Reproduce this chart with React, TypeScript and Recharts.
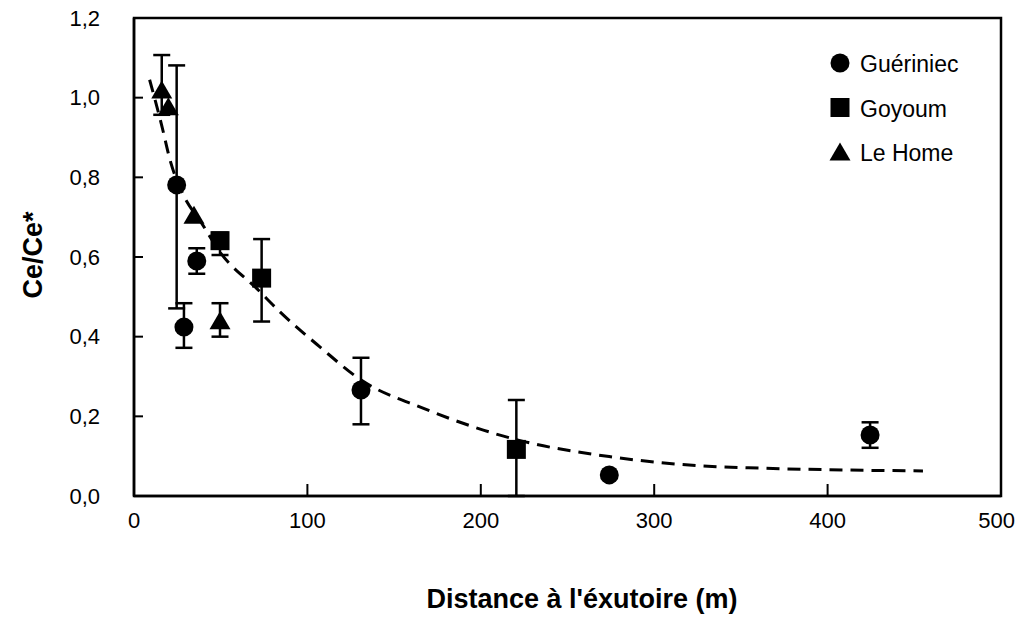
import React from 'react';
import { ComposedChart, Scatter, Line, XAxis, YAxis, ErrorBar, ReferenceArea } from 'recharts';

const FONT = '"Liberation Sans", Arial, Helvetica, sans-serif';

const xTicks = [0, 100, 200, 300, 400, 500];
const yTicks = [0, 0.2, 0.4, 0.6, 0.8, 1.0, 1.2];

const xTitle = "Distance à l'éxutoire (m)";
const yTitle = 'Ce/Ce*';

// Guériniec (circles)
const gueriniecX = [24.6, 36.2, 28.8, 130.9, 274.1, 424.5];
const gueriniecY = [0.781, 0.59, 0.424, 0.266, 0.053, 0.153];
const gueriniecErr: ([number, number] | null)[] = [
  [0.31, 0.3],
  [0.032, 0.032],
  [0.052, 0.06],
  [0.086, 0.081],
  null,
  [0.032, 0.032],
];

// Goyoum (squares)
const goyoumX = [49.6, 73.6, 220.5];
const goyoumY = [0.641, 0.547, 0.117];
const goyoumErr: ([number, number] | null)[] = [
  [0.036, 0.02],
  [0.109, 0.098],
  [0.117, 0.124],
];

// Le Home (triangles)
const leHomeX = [16.0, 19.8, 34.6, 49.6];
const leHomeY = [1.019, 0.977, 0.705, 0.44];
const leHomeErr: ([number, number] | null)[] = [[0.062, 0.088], null, null, [0.04, 0.044]];

// fitted curve (dashed)
const curveX = [9, 16, 21, 28, 39, 50, 71, 84, 107, 131, 167, 221, 274, 326, 361, 400, 455];
const curveY = [1.045, 0.93, 0.84, 0.76, 0.685, 0.61, 0.52, 0.463, 0.375, 0.291, 0.22, 0.141, 0.099, 0.076, 0.07, 0.066, 0.063];

const build = (xs: number[], ys: number[], errs: ([number, number] | null)[]) =>
  xs.map((x, i) => ({ x, y: ys[i], err: errs[i] }));

const gueriniec = build(gueriniecX, gueriniecY, gueriniecErr);
const goyoum = build(goyoumX, goyoumY, goyoumErr);
const leHome = build(leHomeX, leHomeY, leHomeErr);
const curve = curveX.map((x, i) => ({ x, y: curveY[i] }));

const CircleShape = (p: any) => <circle cx={p.cx} cy={p.cy} r={9.5} fill="#000" />;
const SquareShape = (p: any) => (
  <rect x={p.cx - 9.5} y={p.cy - 9.5} width={19} height={19} fill="#000" />
);
const TriangleShape = (p: any) => (
  <polygon
    points={`${p.cx},${p.cy - 9.5} ${p.cx + 10.5},${p.cy + 8.5} ${p.cx - 10.5},${p.cy + 8.5}`}
    fill="#000"
  />
);

const XTick = (props: any) => {
  const { x, y, payload } = props;
  const last = payload.value === xTicks[xTicks.length - 1];
  return (
    <text
      x={last ? x + 14 : x}
      y={y}
      dy="0.71em"
      textAnchor={last ? 'end' : 'middle'}
      fontFamily={FONT}
      fontSize={22}
      fill="#000"
    >
      {payload.value}
    </text>
  );
};

const legendItems = [
  { name: 'Guériniec', kind: 'circle' },
  { name: 'Goyoum', kind: 'square' },
  { name: 'Le Home', kind: 'triangle' },
];

const legendSymbol = (kind: string, cx: number, cy: number) => {
  if (kind === 'circle') return <circle cx={cx} cy={cy} r={9.5} fill="#000" />;
  if (kind === 'square') return <rect x={cx - 9.5} y={cy - 9.5} width={19} height={19} fill="#000" />;
  return (
    <polygon
      points={`${cx},${cy - 9.5} ${cx + 10.5},${cy + 8.5} ${cx - 10.5},${cy + 8.5}`}
      fill="#000"
    />
  );
};

export default function App() {
  return (
    <div style={{ position: 'absolute', left: 0, top: 0, width: 1017, height: 617, background: '#fff' }}>
      <ComposedChart
        width={1017}
        height={617}
        margin={{ top: 18, right: 16, left: 0, bottom: 0 }}
      >
        <XAxis
          type="number"
          dataKey="x"
          domain={[0, 500]}
          ticks={xTicks}
          interval={0}
          allowDataOverflow
          height={121}
          tickSize={-12}
          tickMargin={28}
          axisLine={{ stroke: '#000', strokeWidth: 2.5 }}
          tickLine={{ stroke: '#000', strokeWidth: 2 }}
          tick={<XTick />}
        />
        <YAxis
          type="number"
          dataKey="y"
          domain={[0, 1.2]}
          ticks={yTicks}
          interval={0}
          allowDataOverflow
          width={134}
          tickSize={-9}
          tickMargin={43}
          tickFormatter={(v: number) => v.toFixed(1).replace('.', ',')}
          axisLine={{ stroke: '#000', strokeWidth: 2.5 }}
          tickLine={{ stroke: '#000', strokeWidth: 2 }}
          tick={{ fill: '#000', fontSize: 22, fontFamily: FONT }}
        />
        <ReferenceArea x1={0} x2={500} y1={0} y2={1.2} fill="none" stroke="#000" strokeWidth={2.5} />
        <Line
          data={curve}
          dataKey="y"
          type="monotone"
          stroke="#000"
          strokeWidth={3}
          strokeDasharray="13 8"
          dot={false}
          activeDot={false}
          isAnimationActive={false}
        />
        <Scatter data={gueriniec} dataKey="y" shape={CircleShape} isAnimationActive={false}>
          <ErrorBar dataKey="err" direction="y" width={8.5} strokeWidth={2.5} stroke="#000" />
        </Scatter>
        <Scatter data={goyoum} dataKey="y" shape={SquareShape} isAnimationActive={false}>
          <ErrorBar dataKey="err" direction="y" width={8.5} strokeWidth={2.5} stroke="#000" />
        </Scatter>
        <Scatter data={leHome} dataKey="y" shape={TriangleShape} isAnimationActive={false}>
          <ErrorBar dataKey="err" direction="y" width={8.5} strokeWidth={2.5} stroke="#000" />
        </Scatter>
      </ComposedChart>
      <svg
        width={1017}
        height={617}
        style={{ position: 'absolute', left: 0, top: 0, pointerEvents: 'none' }}
      >
        <text
          x={582}
          y={608}
          textAnchor="middle"
          fontFamily={FONT}
          fontWeight="bold"
          fontSize={27}
          fill="#000"
        >
          {xTitle}
        </text>
        <text
          transform="translate(42,255) rotate(-90)"
          textAnchor="middle"
          fontFamily={FONT}
          fontWeight="bold"
          fontSize={27}
          fill="#000"
        >
          {yTitle}
        </text>
        {legendItems.map((it, i) => {
          const cy = 63 + i * 44.5;
          return (
            <g key={it.name}>
              {legendSymbol(it.kind, 840, cy)}
              <text x={860} y={cy + 9} fontFamily={FONT} fontSize={23} fill="#000">
                {it.name}
              </text>
            </g>
          );
        })}
      </svg>
    </div>
  );
}
